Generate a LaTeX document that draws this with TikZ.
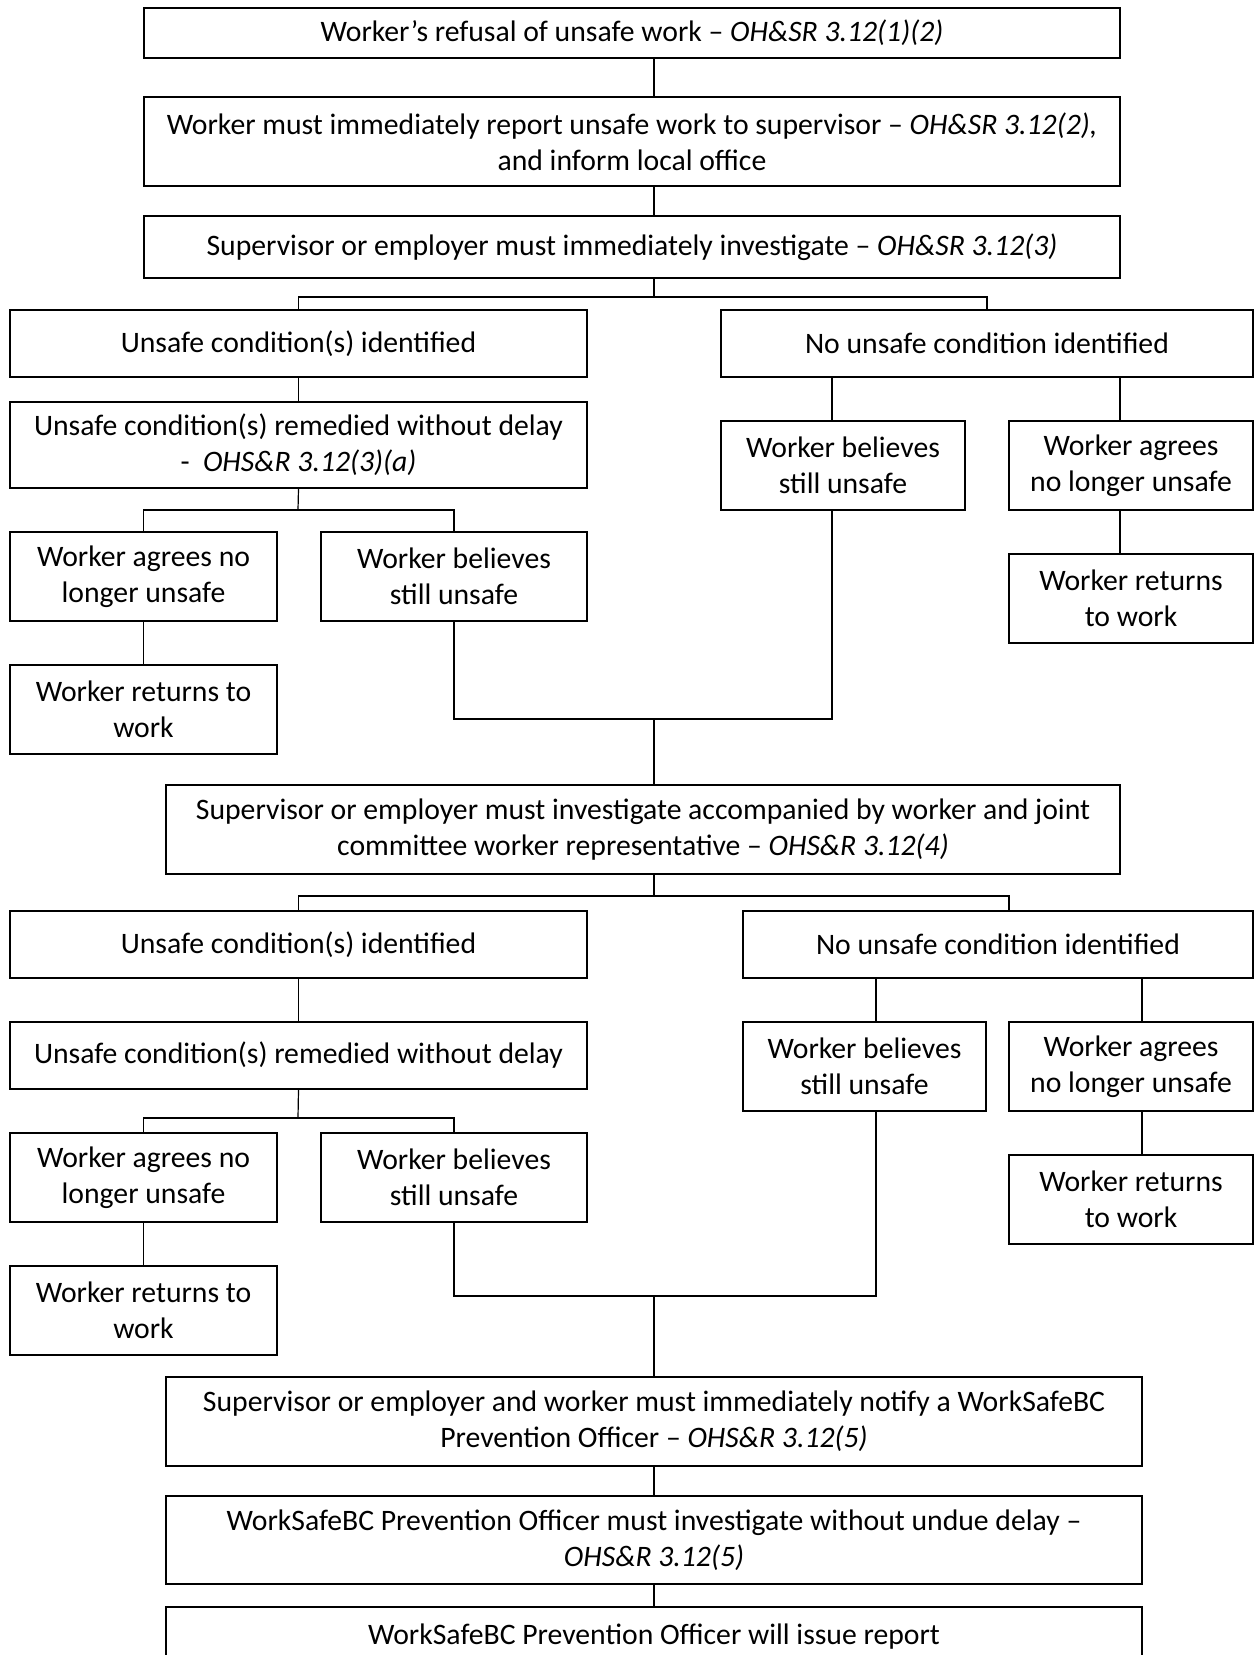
\documentclass[tikz,border=0pt]{standalone}
\usepackage{fontspec}
\setmainfont{Carlito}
\begin{document}
\begin{tikzpicture}[x=1pt,y=-1pt,
  box/.style={draw=black,line width=1.6pt,rectangle,inner sep=0pt,align=center,
    font=\fontsize{29.7}{36}\selectfont},
  conn/.style={draw=black,line width=1.2pt}]
\clip (0,0) rectangle (1254,1655);
\fill[white] (0,0) rectangle (1254,1655);
% spine
\coordinate (sp) at (654,0);
% top
\node[box,minimum width=976pt,minimum height=50pt] (b1) at (632,33) {Worker’s refusal of unsafe work – \textit{OH\&SR 3.12(1)(2)}};
\node[box,minimum width=976pt,minimum height=89pt] (b2) at (632,141.5) {Worker must immediately report unsafe work to supervisor – \textit{OH\&SR 3.12(2),}\\and inform local office};
\node[box,minimum width=976pt,minimum height=62pt] (b3) at (632,247) {Supervisor or employer must immediately investigate – \textit{OH\&SR 3.12(3)}};
% first level
\node[box,minimum width=577pt,minimum height=67pt] (u1) at (298.5,343.5) {Unsafe condition(s) identified};
\node[box,minimum width=532pt,minimum height=67pt] (n1) at (987,343.5) {No unsafe condition identified};
\node[box,minimum width=577pt,minimum height=86pt] (r1) at (298.5,445) {Unsafe condition(s) remedied without delay\\-\ \ \textit{OHS\&R 3.12(3)(a)}};
\node[box,minimum width=267pt,minimum height=89pt] (la1) at (143.5,576.5) {Worker agrees no\\longer unsafe};
\node[box,minimum width=266pt,minimum height=89pt] (lb1) at (454,576.5) {Worker believes\\still unsafe};
\node[box,minimum width=267pt,minimum height=89pt] (lr1) at (143.5,709.5) {Worker returns to\\work};
\node[box,minimum width=244pt,minimum height=89pt] (rb1) at (843,465.5) {Worker believes\\still unsafe};
\node[box,minimum width=244pt,minimum height=89pt] (ra1) at (1131,465.5) {Worker agrees\\no longer unsafe};
\node[box,minimum width=244pt,minimum height=89pt] (rr1) at (1131,598.5) {Worker returns\\to work};
% second investigation
\node[box,minimum width=954pt,minimum height=89pt] (b4) at (643,829.5) {Supervisor or employer must investigate accompanied by worker and joint\\committee worker representative – \textit{OHS\&R 3.12(4)}};
\node[box,minimum width=577pt,minimum height=67pt] (u2) at (298.5,944.5) {Unsafe condition(s) identified};
\node[box,minimum width=510pt,minimum height=67pt] (n2) at (998,944.5) {No unsafe condition identified};
\node[box,minimum width=577pt,minimum height=67pt] (r2) at (298.5,1055.5) {Unsafe condition(s) remedied without delay};
\node[box,minimum width=267pt,minimum height=89pt] (la2) at (143.5,1177.5) {Worker agrees no\\longer unsafe};
\node[box,minimum width=266pt,minimum height=89pt] (lb2) at (454,1177.5) {Worker believes\\still unsafe};
\node[box,minimum width=267pt,minimum height=89pt] (lr2) at (143.5,1310.5) {Worker returns to\\work};
\node[box,minimum width=243pt,minimum height=89pt] (rb2) at (864.5,1066.5) {Worker believes\\still unsafe};
\node[box,minimum width=244pt,minimum height=89pt] (ra2) at (1131,1066.5) {Worker agrees\\no longer unsafe};
\node[box,minimum width=244pt,minimum height=89pt] (rr2) at (1131,1199.5) {Worker returns\\to work};
% bottom
\node[box,minimum width=976pt,minimum height=89pt] (b5) at (654,1421.5) {Supervisor or employer and worker must immediately notify a WorkSafeBC\\Prevention Officer – \textit{OHS\&R 3.12(5)}};
\node[box,minimum width=976pt,minimum height=88pt] (b6) at (654,1540) {WorkSafeBC Prevention Officer must investigate without undue delay –\\\textit{OHS\&R 3.12(5)}};
\node[box,minimum width=976pt,minimum height=60pt] (b7) at (654,1637) {WorkSafeBC Prevention Officer will issue report};
% junction coordinates
\coordinate (j1) at (654,297);
\coordinate (j2) at (298,510);
\coordinate (m1) at (654,719);
\coordinate (j3) at (654,896);
\coordinate (j4) at (298,1118);
\coordinate (m2) at (654,1296);
\coordinate (x1) at (832,0);
\coordinate (x2) at (1120,0);
\coordinate (x3) at (876,0);
\coordinate (x4) at (1142,0);
\coordinate (x5) at (1009,0);
% spine connectors
\draw[conn] (b1.south -| sp) -- (b2.north -| sp);
\draw[conn] (b2.south -| sp) -- (b3.north -| sp);
\draw[conn] (b3.south -| sp) -- (j1);
\draw[conn] (j1) -| (u1.north);
\draw[conn] (j1) -| (n1.north);
\draw[conn] (u1.south) -- (r1.north);
\draw[conn] (r1.south) -- (j2);
\draw[conn] (j2) -| (la1.north);
\draw[conn] (j2) -| (lb1.north);
\draw[conn] (la1.south) -- (lr1.north);
\draw[conn] (n1.south -| x1) -- (rb1.north -| x1);
\draw[conn] (n1.south -| x2) -- (ra1.north -| x2);
\draw[conn] (ra1.south -| x2) -- (rr1.north -| x2);
\draw[conn] (lb1.south) |- (m1) -| (rb1.south -| x1);
\draw[conn] (m1) -- (b4.north -| sp);
\draw[conn] (b4.south -| sp) -- (j3);
\draw[conn] (j3) -| (u2.north);
\draw[conn] (j3) -| (n2.north -| x5);
\draw[conn] (u2.south) -- (r2.north);
\draw[conn] (r2.south) -- (j4);
\draw[conn] (j4) -| (la2.north);
\draw[conn] (j4) -| (lb2.north);
\draw[conn] (la2.south) -- (lr2.north);
\draw[conn] (n2.south -| x3) -- (rb2.north -| x3);
\draw[conn] (n2.south -| x4) -- (ra2.north -| x4);
\draw[conn] (ra2.south -| x4) -- (rr2.north -| x4);
\draw[conn] (lb2.south) |- (m2) -| (rb2.south -| x3);
\draw[conn] (m2) -- (b5.north -| sp);
\draw[conn] (b5.south -| sp) -- (b6.north -| sp);
\draw[conn] (b6.south -| sp) -- (b7.north -| sp);
\end{tikzpicture}
\end{document}
